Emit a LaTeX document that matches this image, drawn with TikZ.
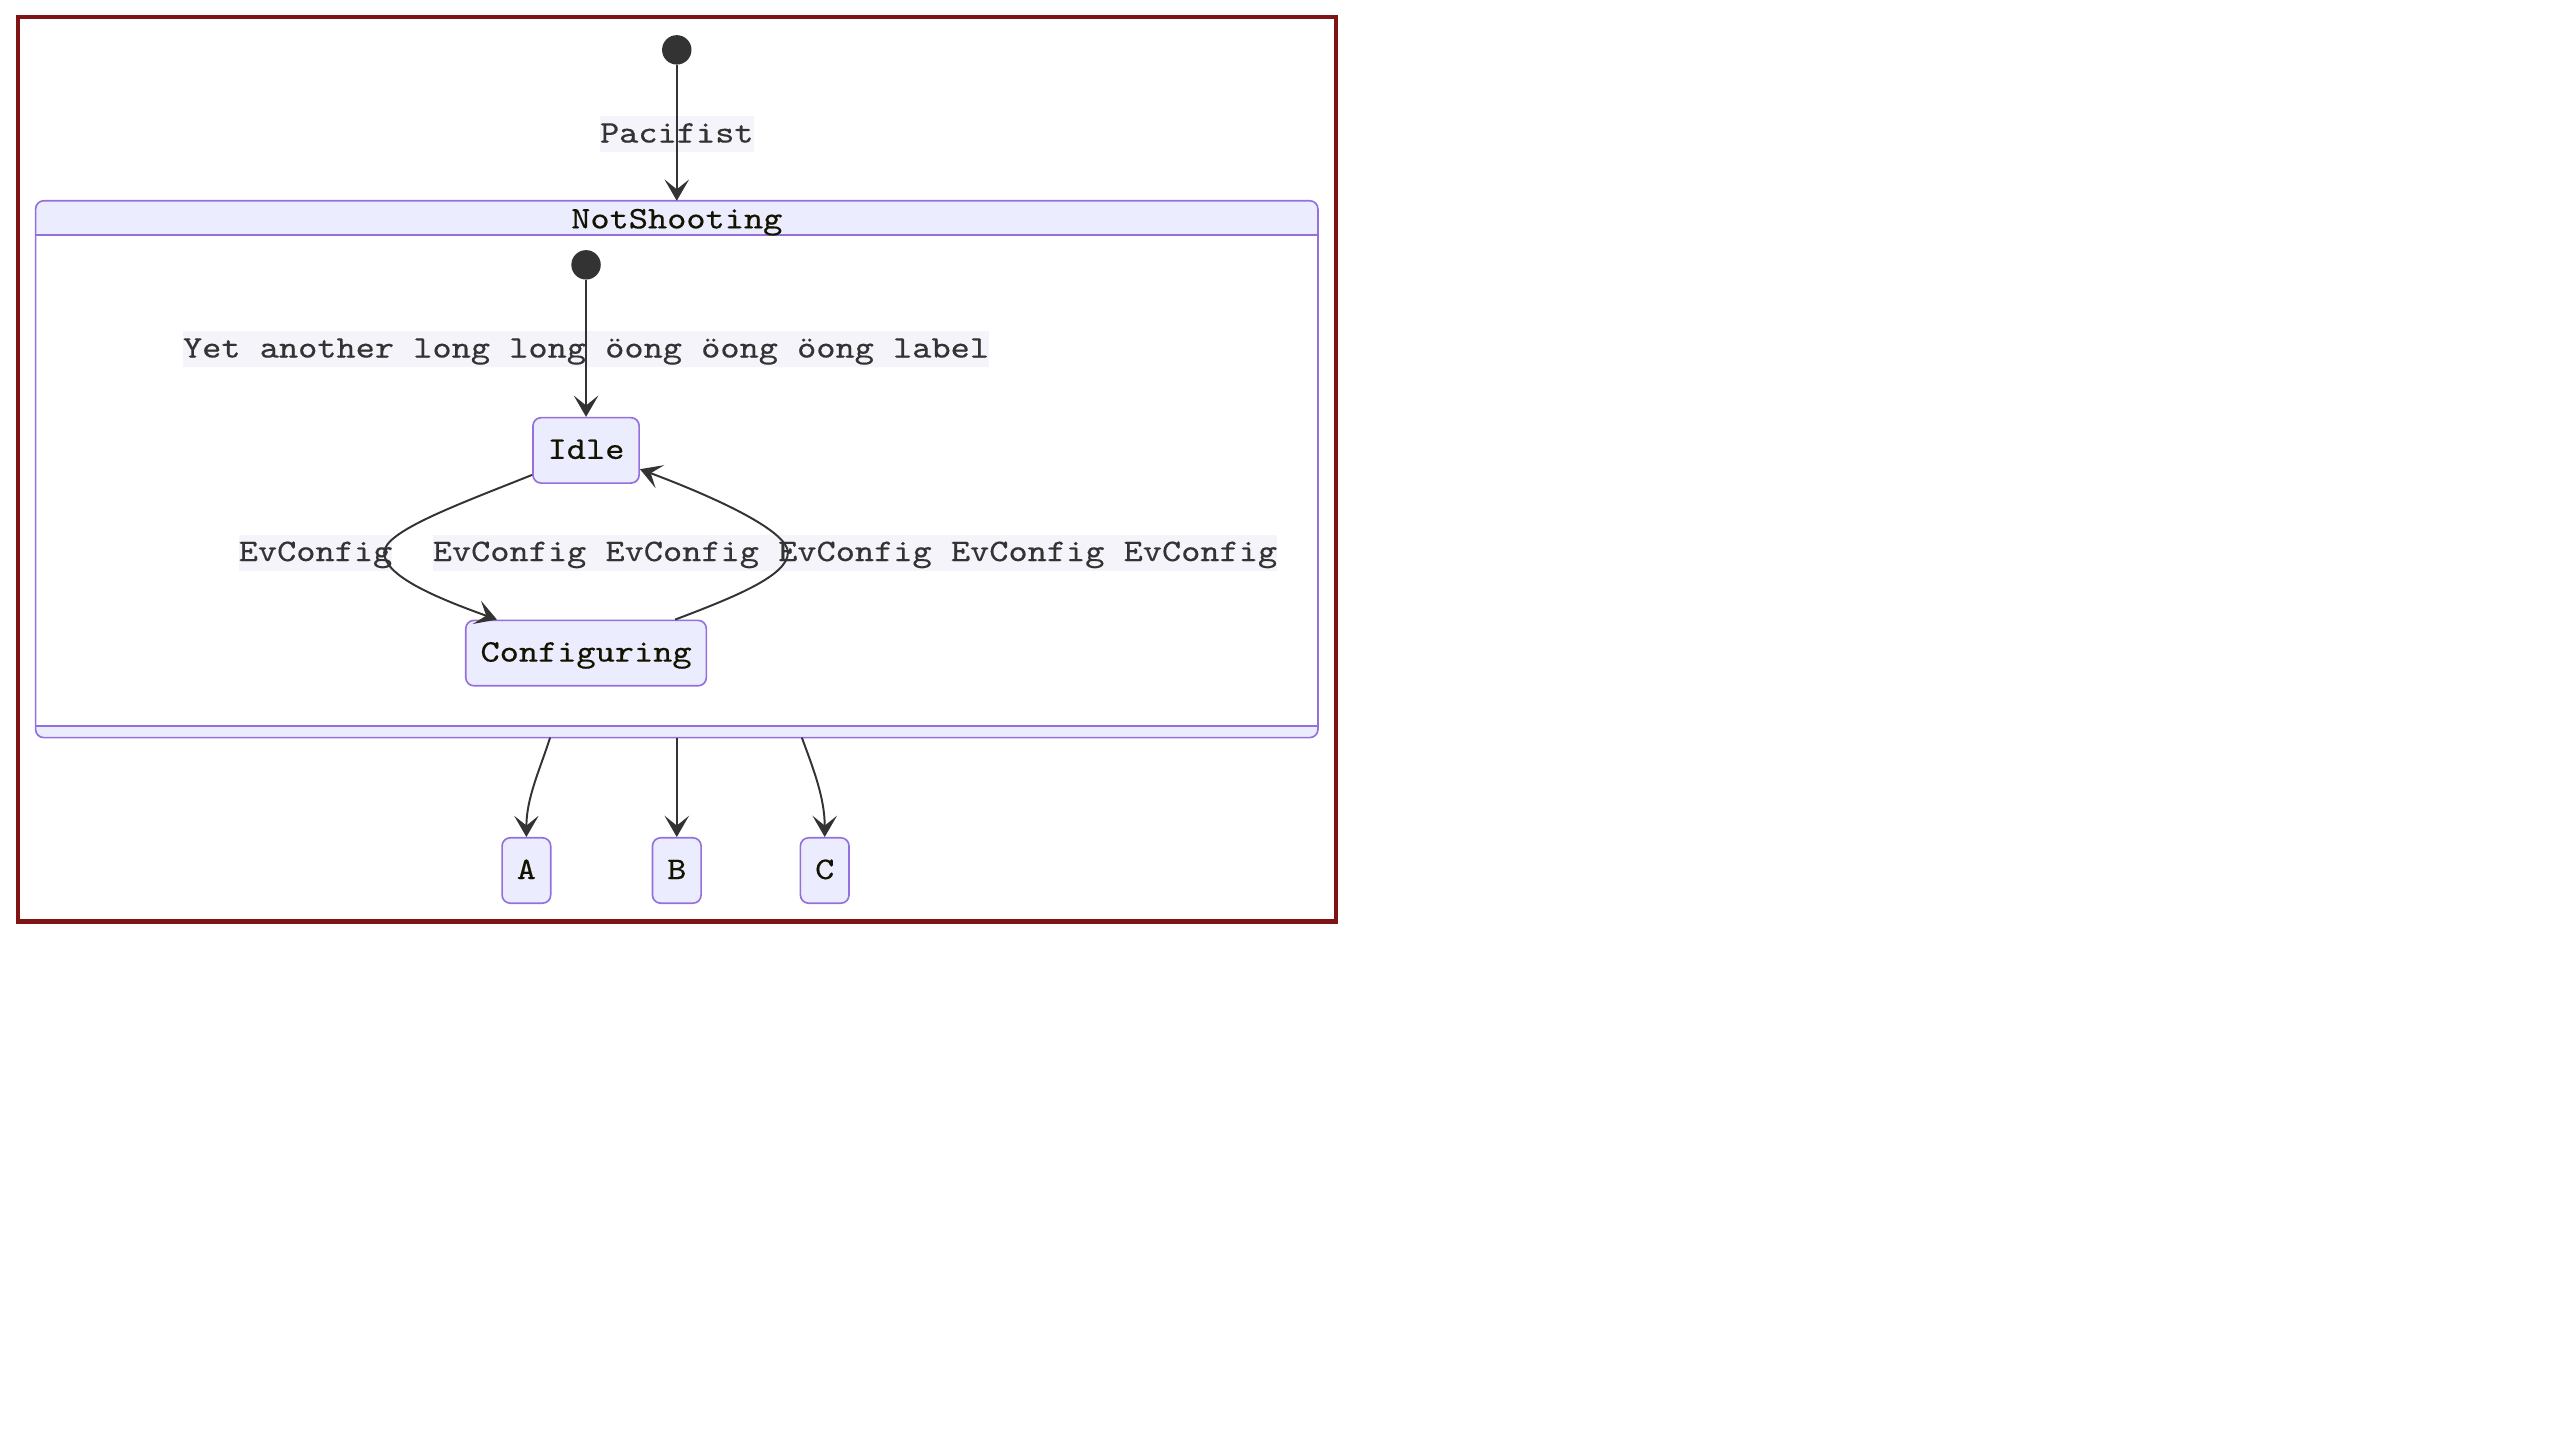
\documentclass[tikz,border=0pt]{standalone}
\usepackage{fontspec}
\newfontfamily\lmono[FakeStretch=1.1647, FakeBold=0.4]{lmmono10-regular.otf}
\usetikzlibrary{arrows.meta}
\definecolor{lineC}{HTML}{333333}
\definecolor{nodeF}{HTML}{ECECFF}
\definecolor{nodeB}{HTML}{9370DB}
\definecolor{lblbg}{HTML}{F4F4FA}
\definecolor{nodeT}{HTML}{131300}
\definecolor{frameC}{RGB}{128,20,20}
\newcommand\mfont{\lmono\fontsize{19.2}{22}\selectfont}
\begin{document}
\begin{tikzpicture}[x=1pt,y=-1pt,
  statebox/.style={draw=nodeB, fill=nodeF, line width=1pt, rounded corners=5pt,
    inner xsep=9pt, inner ysep=0pt, minimum height=40pt, font=\mfont, text=nodeT,
    text height=15pt, text depth=4.6pt},
  edgelabel/.style={fill=lblbg, inner sep=0pt, minimum height=22pt, font=\mfont,
    text=lineC, text height=15pt, text depth=4.6pt},
  startdot/.style={circle, fill=lineC, draw=none, minimum size=18pt, inner sep=0pt},
  edge/.style={draw=lineC, line width=1.2pt,
    -{Stealth[length=13pt, width=15pt, inset=6pt]}}]
\useasboundingbox (0,0) rectangle (1566,880.9);
% outer frame
\draw[frameC, line width=2.6pt] (10.9,10.5) rectangle (817.4,563.7);
% composite state
\node[fill=white, draw=none, minimum width=784pt, minimum height=328pt, inner sep=0pt] (ns) at (414,287) {};
\fill[nodeF] ([yshift=-21pt]ns.north west) [rounded corners=5pt] -- (ns.north west) -- (ns.north east) [sharp corners] -- ([yshift=-21pt]ns.north east) -- cycle;
\fill[nodeF] ([yshift=7pt]ns.south west) [rounded corners=5pt] -- (ns.south west) -- (ns.south east) [sharp corners] -- ([yshift=7pt]ns.south east) -- cycle;
\draw[nodeB, line width=1pt] ([yshift=-21pt]ns.north west) -- ([yshift=-21pt]ns.north east);
\draw[nodeB, line width=1pt] ([yshift=7pt]ns.south west) -- ([yshift=7pt]ns.south east);
\draw[nodeB, line width=1pt, rounded corners=5pt] (ns.north west) rectangle (ns.south east);
\node[font=\mfont, text=nodeT, inner sep=0pt, text height=15pt, text depth=4.6pt] (title) at (414,134.5) {NotShooting};
% start dots
\node[startdot] (s1) at (414,30.5) {};
\node[startdot] (s2) at (358.5,162) {};
% states
\node[statebox] (idle) at (358.5,275.5) {Idle};
\node[statebox] (conf) at (358.5,399.5) {Configuring};
\node[statebox] (a) at (322,532.5) {A};
\node[statebox] (b) at (414,532.5) {B};
\node[statebox] (c) at (504.5,532.5) {C};
% labels
\node[edgelabel] (lp) at (414,82) {Pacifist};
\node[edgelabel] (ly) at (358.5,213.5) {Yet another long long öong öong öong label};
\node[edgelabel] (l1) at (193,338) {EvConfig};
\node[edgelabel] (l2) at (523,338) {EvConfig EvConfig EvConfig EvConfig EvConfig};
% edges
\draw[edge] (s1) -- (ns.north);
\draw[edge] (s2) -- (idle.north);
\draw[edge] ([yshift=-15pt]idle.west) .. controls +(-45,18) and +(0,-13) .. (235,338)
  .. controls +(0,14) and +(-39,-14) .. ([xshift=-54.5pt]conf.north);
\draw[edge] ([xshift=54.5pt]conf.north) .. controls +(37,-14) and +(0,14) .. (482,338)
  .. controls +(0,-13) and +(48,18) .. ([yshift=-11.5pt]idle.east);
\draw[edge] ([xshift=-77.5pt]ns.south) .. controls +(-6,19) and +(0,-24) .. (a.north);
\draw[edge] (ns.south) -- (b.north);
\draw[edge] ([xshift=76.5pt]ns.south) .. controls +(7,19) and +(0,-24) .. (c.north);
\end{tikzpicture}
\end{document}
